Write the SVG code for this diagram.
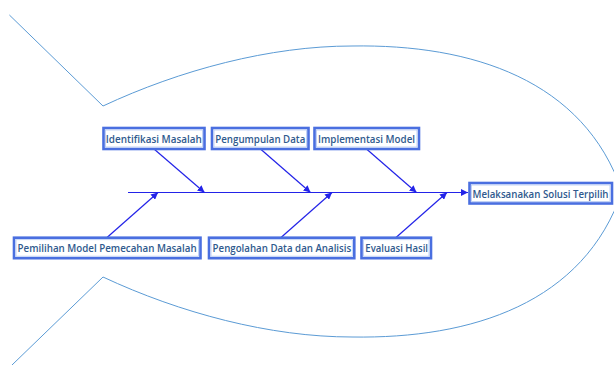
<svg xmlns="http://www.w3.org/2000/svg" width="614" height="365" viewBox="0 0 614 365">
<style>
.fish{fill:none;stroke:#5b9bd5;stroke-width:1}
.bone{stroke:#2323e8;stroke-width:1.2;fill:none}
.box{fill:#ffffff;stroke:#4a6fe0;stroke-width:2.6}
.inner{fill:none;stroke:#b3c8f2;stroke-width:0.8}
.lbl{font-family:"Open Sans","Liberation Sans",sans-serif;font-size:11.5px;font-weight:600;fill:#2f5a8e}
</style>
<defs>
<marker id="ah" viewBox="0 0 10 10" refX="10" refY="5" markerWidth="7" markerHeight="7" markerUnits="userSpaceOnUse" orient="auto">
<path d="M0,0 L10,5 L0,10 Z" fill="#2323e8"/>
</marker>
</defs>
<rect width="614" height="365" fill="#ffffff"/>
<g id="fish">
<path class="fish" d="M9.4,15 L103,106 C180,70 270,46 352,46 C472,44 584,80 622,191.5"/>
<path class="fish" d="M12,365 L103,277 C180,313 270,337 352,337 C472,339 584,303 622,191.5"/>
</g>
<g id="connectors">
<line class="bone" x1="128" y1="192.5" x2="468" y2="192.5" marker-end="url(#ah)"/>
<line class="bone" x1="154" y1="149" x2="204.5" y2="192.5" marker-end="url(#ah)"/>
<line class="bone" x1="260.5" y1="149" x2="310.5" y2="192.5" marker-end="url(#ah)"/>
<line class="bone" x1="366.5" y1="149" x2="416.5" y2="192.5" marker-end="url(#ah)"/>
<line class="bone" x1="107" y1="237.5" x2="158" y2="192.5" marker-end="url(#ah)"/>
<line class="bone" x1="281" y1="237.5" x2="332" y2="192.5" marker-end="url(#ah)"/>
<line class="bone" x1="396" y1="237.5" x2="447" y2="192.5" marker-end="url(#ah)"/>
</g>
<g id="n-identifikasi">
<rect class="box" x="103.5" y="128" width="101" height="21"/>
<rect class="inner" x="105.5" y="130" width="97" height="17"/>
<text class="lbl" x="105.8" y="142.8" textLength="96" lengthAdjust="spacingAndGlyphs">Identifikasi Masalah</text>
</g>
<g id="n-pengumpulan">
<rect class="box" x="212" y="128" width="96.5" height="21"/>
<rect class="inner" x="214" y="130" width="92.5" height="17"/>
<text class="lbl" x="215.3" y="142.8" textLength="90" lengthAdjust="spacingAndGlyphs">Pengumpulan Data</text>
</g>
<g id="n-implementasi">
<rect class="box" x="314.5" y="128" width="104.5" height="21"/>
<rect class="inner" x="316.5" y="130" width="100.5" height="17"/>
<text class="lbl" x="318" y="142.8" textLength="97" lengthAdjust="spacingAndGlyphs">Implementasi Model</text>
</g>
<g id="n-melaksanakan">
<rect class="box" x="469.5" y="183" width="142.5" height="20.5"/>
<rect class="inner" x="471.5" y="185" width="138.5" height="16.5"/>
<text class="lbl" x="472.5" y="197.5" textLength="136" lengthAdjust="spacingAndGlyphs">Melaksanakan Solusi Terpilih</text>
</g>
<g id="n-pemilihan">
<rect class="box" x="14" y="237.7" width="186.5" height="20.5"/>
<rect class="inner" x="16" y="239.7" width="182.5" height="16.5"/>
<text class="lbl" x="17.6" y="252.2" textLength="179" lengthAdjust="spacingAndGlyphs">Pemilihan Model Pemecahan Masalah</text>
</g>
<g id="n-pengolahan">
<rect class="box" x="209" y="237.7" width="145.3" height="20.5"/>
<rect class="inner" x="211" y="239.7" width="141.3" height="16.5"/>
<text class="lbl" x="212.6" y="252.2" textLength="138.6" lengthAdjust="spacingAndGlyphs">Pengolahan Data dan Analisis</text>
</g>
<g id="n-evaluasi">
<rect class="box" x="361.5" y="237.7" width="69.5" height="20.5"/>
<rect class="inner" x="363.5" y="239.7" width="65.5" height="16.5"/>
<text class="lbl" x="365.3" y="252.2" textLength="62.7" lengthAdjust="spacingAndGlyphs">Evaluasi Hasil</text>
</g>
</svg>
